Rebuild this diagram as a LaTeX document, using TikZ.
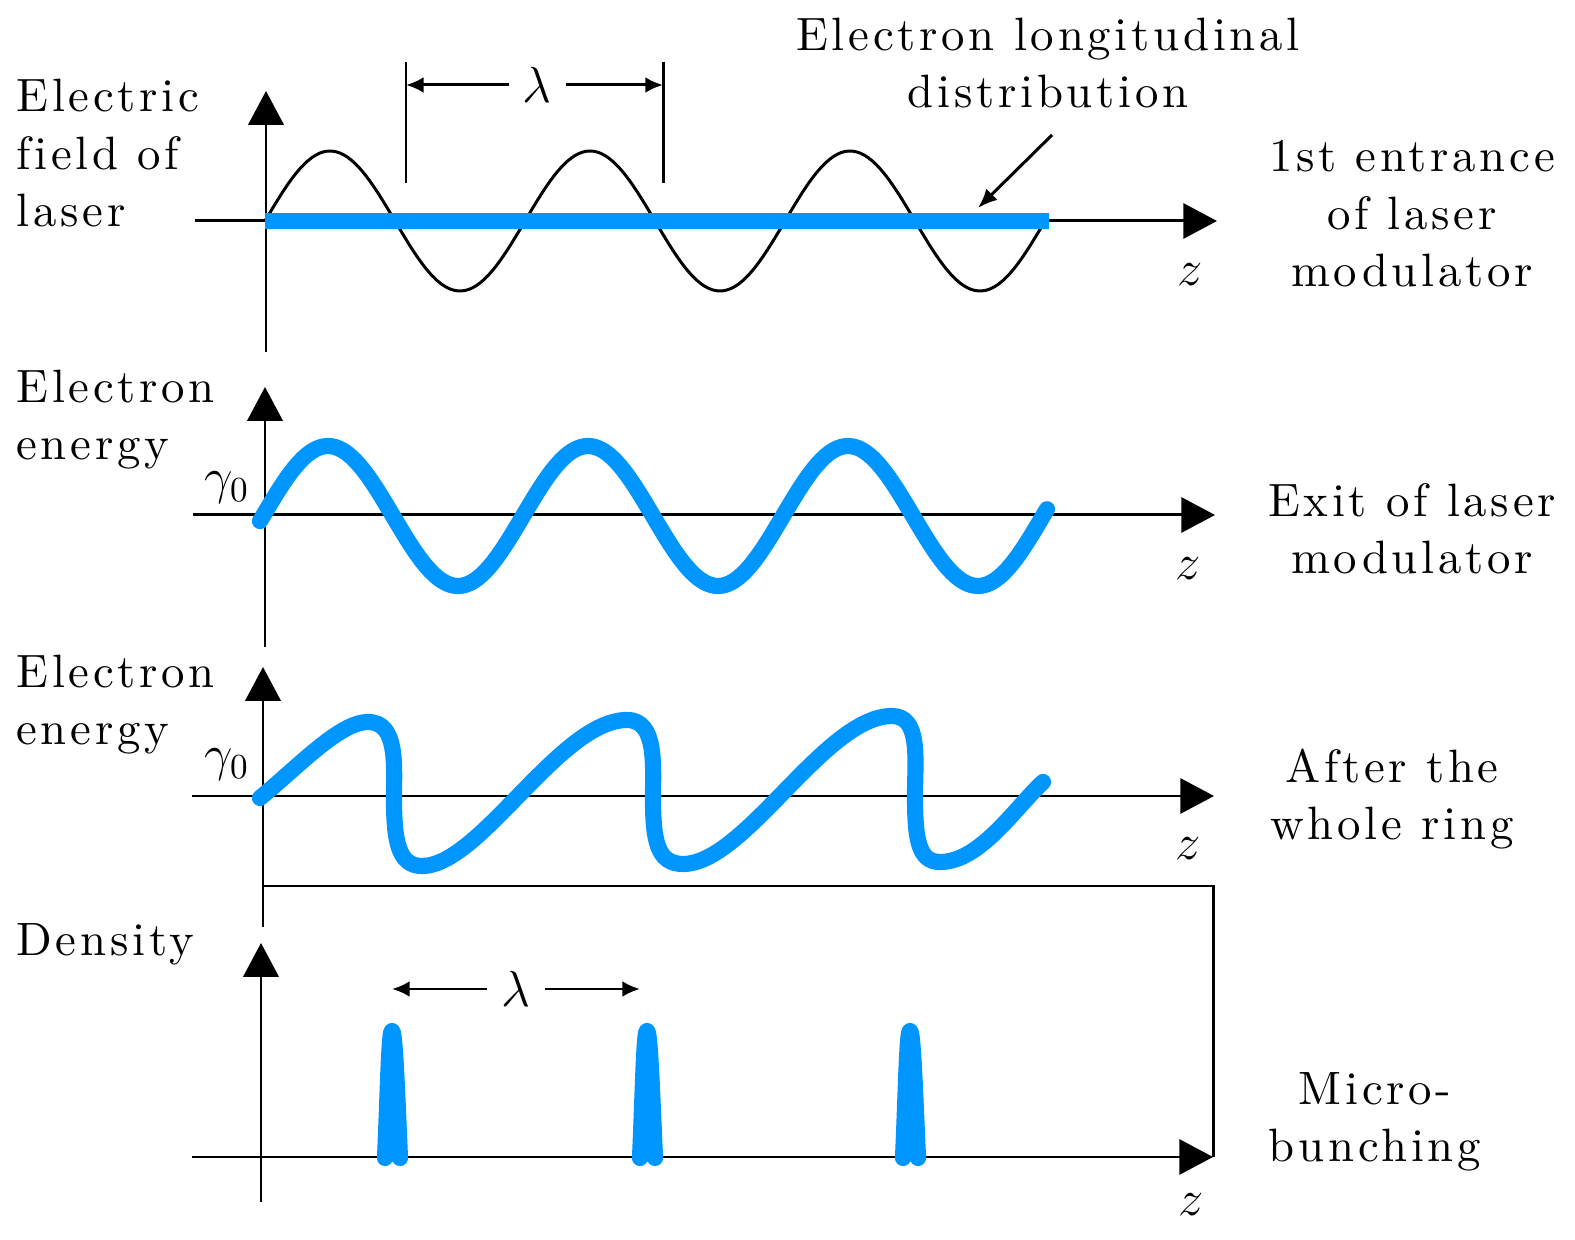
\documentclass[tikz,border=0pt]{standalone}
\usepackage{fontspec}
\newfontfamily\labfont{lmroman10-regular.otf}[LetterSpace=8,Ligatures=NoCommon]
\usetikzlibrary{arrows.meta}
\definecolor{beamblue}{RGB}{0,150,255}
\tikzset{every picture/.style={line width=0.85pt}}
\tikzset{
  axis/.style={-{Triangle[length=9.6pt,width=10pt]}},
  beam/.style={beamblue,line width=4.6pt,line cap=round,line join=round},
  lab/.style={font=\labfont\fontsize{13.3}{16.4}\selectfont,inner sep=0pt},
  sym/.style={font=\fontsize{14}{16}\selectfont,inner sep=0pt},
  dim/.style={{Latex[length=5pt,width=4.5pt]}-{Latex[length=5pt,width=4.5pt]}},
}

\begin{document}
\begin{tikzpicture}[x=0.01cm,y=-0.01cm]
	\useasboundingbox (0,0) rectangle (1575,1240);
	%Panel 1
	\coordinate (xa1) at (195,221);
	\coordinate (xb1) at (1217,221);
	\coordinate (ya1) at (266,352);
	\coordinate (yb1) at (266,91);
	\draw [axis] (xa1)--(xb1);
	\draw [axis] (ya1)--(yb1);
	\draw [domain=265:1045,samples=200] plot (\x,{221-70*sin(((\x-265)/260)*360)});
	\coordinate (bar1) at (265,221);
	\coordinate (bar2) at (1049,221);
	\draw [beamblue,line width=4.6pt] (bar1)--(bar2);
	%Lambda 1
	\coordinate (ta1) at (406,62);
	\coordinate (tb1) at (406,183);
	\coordinate (ta2) at (663,62);
	\coordinate (tb2) at (663,183);
	\draw (ta1)--(tb1);
	\draw (ta2)--(tb2);
	\coordinate (la1) at (406,85);
	\coordinate (la2) at (663,85);
	\draw [dim] (la1)--(la2) node[pos=0.51,fill=white,sym,inner xsep=4pt] (lam1) {$\lambda$};
	%Labels 1
	\node [lab,anchor=base west,align=left] (field) at (15,227) {Electric\\field of\\laser};
	\node [lab,anchor=base,align=center] (dist) at (1048,108) {Electron longitudinal\\distribution};
	\coordinate (distA) at (1052,135);
	\coordinate (distB) at (978,208);
	\draw [-{Latex[length=5.5pt,width=4.5pt]}] (distA)--(distB);
	\node [sym] (z1) at (1190,275) {$z$};
	\node [lab,anchor=base,align=center] (entr) at (1412,287) {1st entrance\\of laser\\modulator};
	%Panel 2
	\coordinate (xa2) at (193,515);
	\coordinate (xb2) at (1215,515);
	\coordinate (ya2) at (265,647);
	\coordinate (yb2) at (265,387);
	\draw [axis] (xa2)--(xb2);
	\draw [axis] (ya2)--(yb2);
	\draw [beam,domain=260:1047,samples=200] plot (\x,{516-70*sin(((\x-263)/260)*360)});
	\node [sym] (g1) at (227,488) {$\gamma_0$};
	\node [sym] (z2) at (1188,569) {$z$};
	\node [lab,anchor=base west,align=left] (energy1) at (15,460) {Electron\\energy};
	\node [lab,anchor=base,align=center] (exit) at (1412,574) {Exit of laser\\modulator};
	%Panel 3
	\coordinate (xa3) at (192,796);
	\coordinate (xb3) at (1214,796);
	\coordinate (ya3) at (263,927);
	\coordinate (yb3) at (263,667);
	\draw [axis] (xa3)--(xb3);
	\draw [axis] (ya3)--(yb3);
	\draw [beam] (260,798) .. controls (300,765) and (340,722) .. (368,722)
		.. controls (398,722) and (394,765) .. (394,798)
		.. controls (394,840) and (398,866) .. (422,866)
		.. controls (480,866) and (560,720) .. (627,720)
		.. controls (657,720) and (653,765) .. (653,798)
		.. controls (653,840) and (657,864) .. (683,864)
		.. controls (745,864) and (825,716) .. (892,716)
		.. controls (921,716) and (915,760) .. (915,795)
		.. controls (915,838) and (918,862) .. (940,862)
		.. controls (980,862) and (1015,808) .. (1043,782);
	\node [sym] (g2) at (227,765) {$\gamma_0$};
	\node [sym] (z3) at (1188,849) {$z$};
	\node [lab,anchor=base west,align=left] (energy2) at (15,745) {Electron\\energy};
	\node [lab,anchor=base,align=center] (after) at (1392,840) {After the\\whole ring};
	%Ring
	\coordinate (ring1) at (263,886);
	\coordinate (ring2) at (1213,886);
	\coordinate (ring3) at (1213,1157);
	\draw (ring1)--(ring2)--(ring3);
	%Panel 4
	\coordinate (xa4) at (192,1157);
	\coordinate (xb4) at (1213,1157);
	\coordinate (ya4) at (261,1202);
	\coordinate (yb4) at (261,943);
	\draw [axis] (xa4)--(xb4);
	\draw [axis] (ya4)--(yb4);
	\draw [beam] (385,1158) .. controls (388,1090) and (389,1031) .. (392,1031) .. controls (395,1031) and (397,1090) .. (400,1158);
	\draw [beam] (640,1158) .. controls (643,1090) and (644,1031) .. (647,1031) .. controls (650,1031) and (652,1090) .. (655,1158);
	\draw [beam] (903,1158) .. controls (906,1090) and (907,1031) .. (910,1031) .. controls (913,1031) and (915,1090) .. (918,1158);
	\coordinate (la3) at (392,989);
	\coordinate (la4) at (640,989);
	\draw [dim] (la3)--(la4) node[pos=0.5,fill=white,sym,inner xsep=4pt] (lam2) {$\lambda$};
	\node [sym] (z4) at (1191,1205) {$z$};
	\node [lab,anchor=base west] (dens) at (15,956) {Density};
	\node [lab,anchor=base,align=center] (micro) at (1375,1162) {Micro-\\bunching};
\end{tikzpicture}
\end{document}
